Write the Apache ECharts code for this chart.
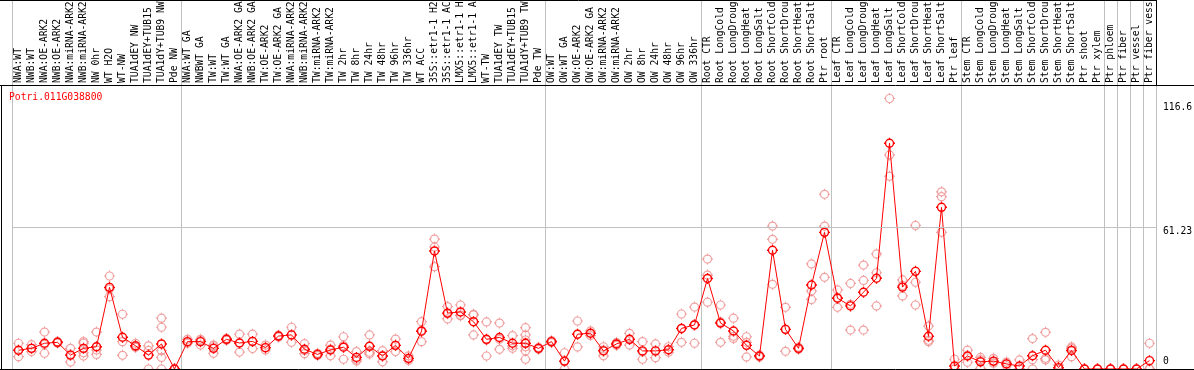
<!DOCTYPE html>
<html><head><meta charset="utf-8">
<script src="https://cdn.jsdelivr.net/npm/echarts@6/dist/echarts.min.js"></script>
<style>html,body{margin:0;padding:0;background:#fff;overflow:hidden}#c{width:1194px;height:370px}</style>
</head><body><div id="c"></div>
<script>
const chartTitle = 'Potri.011G038800';

const categories = [
  'NWA:WT','NWB:WT','NWA:OE-ARK2','NWB:OE-ARK2','NWA:miRNA-ARK2','NWB:miRNA-ARK2','NW 0hr','WT H2O','WT-NW',
  'TUA1dEY NW','TUA1dEY+TUB15 NW','TUA1dY+TUB9 NW','Pde NW',
  'NWA:WT GA','NWBWT GA','TW:WT','TW:WT GA','NWA:OE-ARK2 GA','NWB:OE-ARK2 GA','TW:OE-ARK2','TW:OE-ARK2 GA',
  'NWA:miRNA-ARK2','NWB:miRNA-ARK2','TW:miRNA-ARK2','TW:miRNA-ARK2','TW 2hr','TW 8hr','TW 24hr','TW 48hr','TW 96hr','TW 336hr',
  'WT ACC','35S::etr1-1 H2O','35S::etr1-1 ACC','LMX5::etr1-1 H2O','LMX5::etr1-1 ACC','WT-TW','TUA1dEY TW','TUA1dEY+TUB15 TW','TUA1dY+TUB9 TW','Pde TW',
  'OW:WT','OW:WT GA','OW:OE-ARK2','OW:OE-ARK2 GA','OW:miRNA-ARK2','OW:miRNA-ARK2','OW 2hr','OW 8hr','OW 24hr','OW 48hr','OW 96hr','OW 336hr',
  'Root CTR','Root LongCold','Root LongDrought','Root LongHeat','Root LongSalt','Root ShortCold','Root ShortDrought','Root ShortHeat','Root ShortSalt','Ptr root',
  'Leaf CTR','Leaf LongCold','Leaf LongDrought','Leaf LongHeat','Leaf LongSalt','Leaf ShortCold','Leaf ShortDrought','Leaf ShortHeat','Leaf ShortSalt','Ptr leaf',
  'Stem CTR','Stem LongCold','Stem LongDrought','Stem LongHeat','Stem LongSalt','Stem ShortCold','Stem ShortDrought','Stem ShortHeat','Stem ShortSalt',
  'Ptr shoot','Ptr xylem','Ptr phloem','Ptr fiber','Ptr vessel','Ptr fiber vessel'
];

const means = [
  8.1, 8.9, 11.1, 11.5, 6.0, 8.9, 9.6, 35.2, 13.7, 10.0, 6.0, 10.8, 0,
  11.8, 11.8, 8.9, 12.8, 11.2, 11.9, 9.2, 14.2, 14.7, 8.5, 6.3, 8.2, 9.4, 5.0, 9.8, 5.6, 10.2, 4.6,
  16.3, 50.9, 24.1, 24.6, 20.4, 12.8, 13.6, 11.1, 11.1, 8.9,
  11.8, 3.4, 15.0, 15.4, 7.8, 10.8, 12.8, 7.8, 7.8, 8.3, 17.5, 19.0,
  39.0, 19.8, 16.4, 10.2, 5.6, 51.2, 17.1, 8.9, 36.2, 58.9,
  30.5, 27.2, 33.1, 39.1, 97.3, 35.3, 42.1, 14.1, 69.7, 1.3,
  5.6, 3.1, 3.4, 2.2, 1.3, 5.7, 8.1, 0.6, 8.0, 0, 0, 0, 0, 0, 3.6
];

const replicates = [
  [11.1, 8.0, 5.3], [10.5, 8.9, 7.5], [15.9, 10.6, 6.8], [11.8, 11.5, 11.2], [8.9, 6.1, 3.0],
  [11.8, 11.1, 5.6, 7.0], [15.9, 9.6, 8.2, 6.3], [40.1, 34.5, 31.2], [23.6, 11.8, 5.9], [11.1, 9.5, 9.4],
  [10.0, 8.0, 0], [21.9, 18.0, 7.9, 5.0, 0], [0, 0, 0],
  [12.8, 11.6, 11.1], [12.8, 12.2, 10.3], [10.3, 9.6, 6.8], [13.2, 12.8, 12.4], [15.0, 11.2, 7.3],
  [15.0, 11.9, 8.8], [10.3, 9.2, 8.2], [14.6, 14.2, 13.8], [18.0, 14.6, 11.5], [10.9, 8.0, 6.6],
  [6.8, 6.3, 5.8], [10.3, 8.6, 5.7], [13.9, 10.1, 4.2], [7.5, 4.1, 3.4], [14.7, 9.8, 7.2, 6.5],
  [7.9, 5.8, 3.1], [12.9, 10.2, 7.5], [5.7, 4.4, 3.7],
  [20.4, 16.7, 11.8], [56.0, 52.6, 44.1], [26.9, 23.8, 21.6], [27.6, 23.2, 23.0], [23.6, 23.3, 14.7],
  [20.3, 12.5, 5.6], [19.8, 12.8, 8.5], [14.4, 10.0, 8.9], [17.8, 14.7, 12.5, 11.0, 9.6, 7.8, 4.2], [9.3, 8.9, 8.5],
  [12.2, 11.8, 11.4], [7.0, 3.2, 0], [20.7, 15.0, 9.5], [16.4, 15.4, 14.4], [9.6, 8.1, 5.7],
  [11.4, 10.8, 10.2], [15.4, 12.7, 10.3], [11.8, 7.4, 4.2], [10.8, 7.7, 4.9], [9.6, 8.2, 7.2],
  [23.7, 17.3, 11.5], [26.7, 19.2, 11.1],
  [47.4, 40.5, 28.8], [27.6, 20.3, 11.5], [21.9, 14.1, 13.2], [13.9, 11.5, 5.2], [6.0, 5.6, 5.2],
  [61.6, 55.9, 36.5], [26.6, 17.1, 7.6], [9.4, 8.9, 8.5], [45.3, 33.6, 30.0], [75.3, 61.6, 39.5],
  [34.1, 30.8, 26.6], [36.9, 27.9, 16.8], [44.8, 38.2, 16.8], [49.6, 41.5, 27.2], [116.6, 92.3, 83.1],
  [38.4, 36.0, 31.5], [61.9, 37.4, 27.6], [18.5, 12.4, 11.8], [76.4, 74.3, 58.9], [4.2, 0, 0],
  [8.1, 5.8, 2.9], [5.0, 4.0, 0.3], [4.6, 3.2, 2.5], [3.0, 2.2, 1.4], [3.9, 0, 0],
  [13.1, 4.0, 0], [15.8, 4.6, 3.9], [1.7, 0, 0], [9.5, 8.9, 5.3],
  [0, 0, 0], [0, 0, 0], [0, 0, 0], [0, 0, 0], [0, 0, 0], [11.1, 0, 0]
];

const yTickLabels = [0, 61.23, 116.6];
const groupStarts = [0, 13, 41, 53, 63, 73, 84, 85, 86, 87];

const MONO = '"DejaVu Sans Mono", monospace';
const FS = 9.7;
const marker = 'path://M0,-5.5L0,-4M0,4L0,5.5M-5.5,0L-4,0M4,0L5.5,0M4,0A4,4,0,1,1,-4,0A4,4,0,1,1,4,0';

const repPoints = [];
replicates.forEach((arr, i) => arr.forEach(v => repPoints.push([i, v])));
const maxVal = Math.max(...repPoints.map(p => p[1]), ...means);
const yMax = maxVal * 1.05;
const startSet = new Set(groupStarts);
const sepFn = (idx) => startSet.has(idx);
const sepLine = { show: true, interval: sepFn, lineStyle: { color: '#c0c0c0', width: 1, type: 'solid' } };

const chart = echarts.init(document.getElementById('c'), null, { renderer: 'canvas' });
chart.setOption({
  animation: false,
  backgroundColor: '#ffffff',
  title: {
    text: chartTitle, left: 9, top: 92, padding: 0,
    textStyle: { color: '#ff0000', fontFamily: MONO, fontSize: FS, fontWeight: 'normal' }
  },
  grid: [
    { left: 12, right: 38, top: 85, bottom: 1, containLabel: false, outerBoundsMode: 'none' },
    { left: 12, right: 38, top: 0, height: 85, containLabel: false, outerBoundsMode: 'none' }
  ],
  xAxis: [
    {
      type: 'category', gridIndex: 0, data: categories, position: 'top', boundaryGap: true,
      axisLine: { show: false }, axisTick: { show: false },
      axisLabel: { interval: 0, rotate: 90, margin: 2, fontFamily: MONO, fontSize: FS, color: '#000' },
      splitLine: sepLine
    },
    {
      type: 'category', gridIndex: 1, data: categories, boundaryGap: true,
      axisLine: { show: false }, axisTick: { show: false }, axisLabel: { show: false },
      splitLine: sepLine
    }
  ],
  yAxis: [
    {
      type: 'value', gridIndex: 0, min: 0, max: yMax, position: 'right',
      axisLine: { show: false }, axisTick: { show: false }, splitLine: { show: false },
      axisLabel: {
        customValues: yTickLabels, margin: 7, fontFamily: MONO, fontSize: FS, color: '#000',
        formatter: v => {
          const k = v === yTickLabels[0] ? 'lo' : (v === yTickLabels[2] ? 'hi' : 'mid');
          return '{' + k + '|' + v + '}';
        },
        rich: {
          lo: { padding: [0, 0, 15, 0], fontFamily: MONO, fontSize: FS, color: '#000' },
          mid: { padding: [10, 0, 0, 0], fontFamily: MONO, fontSize: FS, color: '#000' },
          hi: { padding: [18, 0, 0, 0], fontFamily: MONO, fontSize: FS, color: '#000' }
        }
      }
    },
    { type: 'value', gridIndex: 1, show: false }
  ],
  series: [
    {
      type: 'line', xAxisIndex: 0, yAxisIndex: 0, data: [], silent: true, z: 1,
      markLine: {
        silent: true, symbol: ['none', 'none'], label: { show: false }, animation: false,
        lineStyle: { color: '#c0c0c0', width: 1, type: 'solid' },
        data: [{ yAxis: yTickLabels[1] }]
      }
    },
    {
      type: 'scatter', xAxisIndex: 0, yAxisIndex: 0, data: repPoints, symbol: marker, symbolSize: 11,
      itemStyle: { color: 'rgba(255,255,255,0)', borderColor: '#ee8888', borderWidth: 1.2 },
      silent: true, z: 2
    },
    {
      type: 'line', xAxisIndex: 0, yAxisIndex: 0, data: means, symbol: marker, symbolSize: 11,
      showAllSymbol: true,
      lineStyle: { color: '#ff0000', width: 1 },
      itemStyle: { color: 'rgba(255,255,255,0)', borderColor: '#ff0000', borderWidth: 1.4 },
      silent: true, z: 3
    }
  ],
  graphic: [
    { type: 'line', z: 100, shape: { x1: 0, y1: 0.5, x2: 1157, y2: 0.5 }, style: { stroke: '#000', lineWidth: 1 } },
    { type: 'line', z: 100, shape: { x1: 1156.5, y1: 0, x2: 1156.5, y2: 85 }, style: { stroke: '#000', lineWidth: 1 } },
    { type: 'line', z: 100, shape: { x1: 0, y1: 85.5, x2: 1194, y2: 85.5 }, style: { stroke: '#000', lineWidth: 1 } },
    { type: 'line', z: 100, shape: { x1: 1.5, y1: 85, x2: 1.5, y2: 370 }, style: { stroke: '#000', lineWidth: 1 } },
    { type: 'line', z: 100, shape: { x1: 0, y1: 369.5, x2: 1194, y2: 369.5 }, style: { stroke: '#000', lineWidth: 1 } }
  ]
});
</script>
</body></html>
